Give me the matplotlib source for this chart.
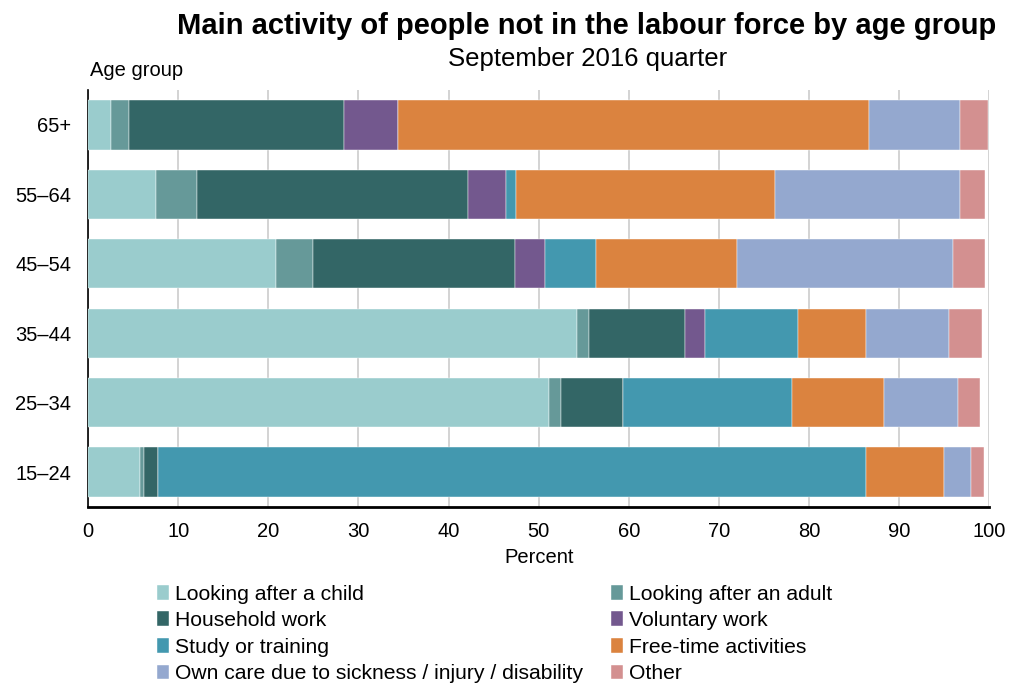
import numpy as np
import matplotlib.pyplot as plt

plt.rcParams['font.family'] = ['Liberation Sans', 'DejaVu Sans']

ages = ['15–24', '25–34', '35–44', '45–54', '55–64', '65+']
categories = ['Looking after a child', 'Looking after an adult', 'Household work',
              'Voluntary work', 'Study or training', 'Free-time activities',
              'Own care due to sickness / injury / disability', 'Other']

# percent values per age group (15–24 ... 65+)
child = [5.8, 51.1, 54.2, 20.9, 7.5, 2.6]
adult = [0.4, 1.4, 1.4, 4.1, 4.6, 2.0]
household = [1.6, 6.9, 10.6, 22.4, 30.0, 23.8]
voluntary = [0.0, 0.0, 2.2, 3.3, 4.3, 6.0]
study = [78.5, 18.7, 10.4, 5.7, 1.1, 0.0]
freetime = [8.7, 10.2, 7.5, 15.6, 28.7, 52.2]
owncare = [2.9, 8.2, 9.2, 23.9, 20.5, 10.1]
other = [1.5, 2.5, 3.7, 3.6, 2.8, 3.1]

series = [child, adult, household, voluntary, study, freetime, owncare, other]
colors = ['#9ACCCD', '#669999', '#336666', '#73588E', '#4398AF', '#DB833F',
          '#94A8CF', '#D39090']

fig = plt.figure(figsize=(10.14, 6.83), dpi=100)
ax = fig.add_axes([0.0868, 0.258, 0.889, 0.61])

y = np.arange(len(ages))
left = np.zeros(len(ages))
handles = []
for vals, col, name in zip(series, colors, categories):
    b = ax.barh(y, vals, left=left, height=0.71, color=col, label=name,
                edgecolor='white', linewidth=0.3, zorder=3)
    handles.append(b)
    left += np.array(vals)

ax.set_xlim(0, 100)
ax.set_ylim(-0.5, 5.5)
ax.set_xticks(range(0, 101, 10))
ax.set_yticks(y)
ax.set_yticklabels(ages)
ax.tick_params(axis='both', labelsize=14.5, length=0)
ax.tick_params(axis='x', pad=11)
ax.tick_params(axis='y', pad=12)
ax.grid(axis='x', color='#cccccc', linewidth=1.2, zorder=0)
for s in ['top', 'right']:
    ax.spines[s].set_visible(False)
ax.spines['left'].set_linewidth(1.2)
ax.spines['bottom'].set_linewidth(2)
ax.set_xlabel('Percent', fontsize=14.5, labelpad=5)

fig.text(0.579, 0.962, 'Main activity of people not in the labour force by age group',
         ha='center', va='center', fontsize=21, fontweight='bold')
fig.text(0.579, 0.914, 'September 2016 quarter', ha='center', va='center', fontsize=18.5)
fig.text(0.089, 0.897, 'Age group', ha='left', va='center', fontsize=14.5)

order = [0, 2, 4, 6, 1, 3, 5, 7]
fig.legend([handles[i] for i in order], [categories[i] for i in order],
           ncol=2, loc='upper left', bbox_to_anchor=(0.155, 0.144),
           frameon=False, fontsize=15.2, handlelength=0.55, handleheight=0.7,
           handletextpad=0.3, columnspacing=1.33, labelspacing=0.36,
           borderaxespad=0, borderpad=0)

fig.savefig('out.png', dpi=100)
